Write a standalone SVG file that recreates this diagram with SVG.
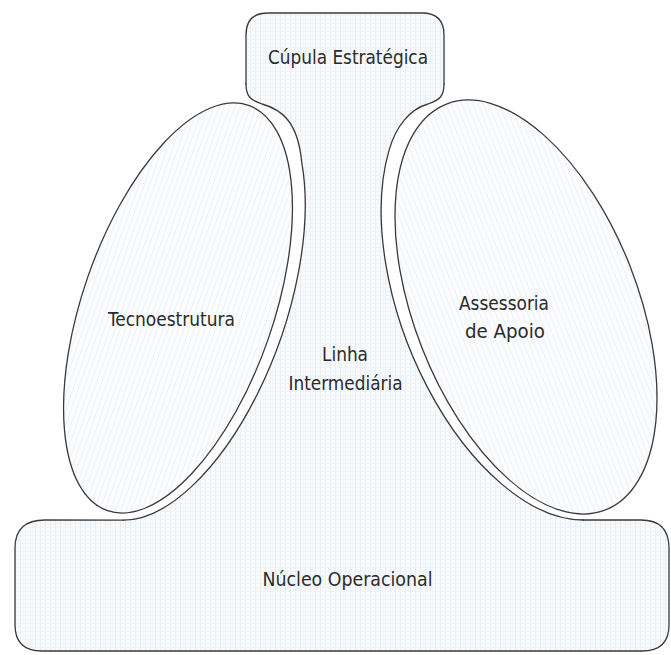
<svg xmlns="http://www.w3.org/2000/svg" width="671" height="655" viewBox="0 0 671 655">
  <style>
    .ln { fill: none; stroke: #3a3a3a; stroke-width: 1.3; stroke-linejoin: round; stroke-linecap: round; }
    .el { fill: url(#tex2); stroke: #3a3a3a; stroke-width: 1.3; }
    .lbl { font-family: 'Liberation Sans Narrow', 'DejaVu Sans Condensed', 'Liberation Sans', sans-serif; font-size: 20px; fill: #2b2b2b; text-anchor: middle; }
  </style>
  <defs>
    <pattern id="tex" width="5" height="4" patternUnits="userSpaceOnUse">
      <rect width="5" height="4" fill="#f8fafc"/>
      <rect x="0" y="0" width="1" height="4" fill="#e9eef3"/>
      <rect x="0" y="3" width="5" height="1" fill="#f1f4f7"/>
    </pattern>
    <pattern id="tex2" width="5" height="4" patternUnits="userSpaceOnUse">
      <rect width="5" height="4" fill="#fbfcfd"/>
      <rect x="0" y="0" width="1" height="4" fill="#eef2f6"/>
    </pattern>
  </defs>
  <rect width="671" height="655" fill="#ffffff"/>

  <!-- silhouette fill -->
  <path id="silhouette" fill="url(#tex)" stroke="none" d="M246,84 L246,35 Q246,13 268,13 L422,13 Q444,13 444,35 L444,84 C444,96 440,100 428,104 C410,109 396.1,126.1 389.1,150.1 A125,231 -21.4 0 0 583.4,520 L641,520 Q669,520 669,548 L669,625 Q669,651 642,651 L42,651 Q15,651 15,625 L15,548 Q15,520 45,520 L123.4,520.2 A106,226 19.2 0 0 301.8,162.9 C298,120 280,109 262,104 C250,100 246,96 246,84 Z"/>

  <g id="connectors"></g>

  <g id="cupula-estrategica">
    <path class="ln" d="M246,84 L246,35 Q246,13 268,13 L422,13 Q444,13 444,35 L444,84"/>
    <text class="lbl" x="348" y="64" textLength="160" lengthAdjust="spacingAndGlyphs">Cúpula Estratégica</text>
  </g>

  <g id="linha-intermediaria">
    <path class="ln" d="M246,84 C246,96 250,100 262,104 C280,109 298,120 301.8,162.9 A106,226 19.2 0 1 123.4,520.2"/>
    <path class="ln" d="M444,84 C444,96 440,100 428,104 C410,109 396.1,126.1 389.1,150.1 A125,231 -21.4 0 0 583.4,520"/>
    <text class="lbl" x="345" y="361" textLength="46" lengthAdjust="spacingAndGlyphs">Linha</text>
    <text class="lbl" x="345.5" y="390" textLength="114" lengthAdjust="spacingAndGlyphs">Intermediária</text>
  </g>

  <g id="nucleo-operacional">
    <path class="ln" d="M123.4,520.2 L45,520 Q15,520 15,548 L15,625 Q15,651 42,651 L642,651 Q669,651 669,625 L669,548 Q669,520 641,520 L583.4,520"/>
    <text class="lbl" x="347.5" y="586" textLength="170" lengthAdjust="spacingAndGlyphs">Núcleo Operacional</text>
  </g>

  <g id="tecnoestrutura">
    <ellipse class="el" cx="178" cy="308" rx="95.4" ry="214.6" transform="rotate(19.2 178 308)"/>
    <text class="lbl" x="171.5" y="326" textLength="127" lengthAdjust="spacingAndGlyphs">Tecnoestrutura</text>
  </g>

  <g id="assessoria-de-apoio">
    <ellipse class="el" cx="526" cy="307" rx="111.8" ry="218" transform="rotate(-21.4 526 307)"/>
    <text class="lbl" x="504" y="310" textLength="90" lengthAdjust="spacingAndGlyphs">Assessoria</text>
    <text class="lbl" x="505" y="338" textLength="80" lengthAdjust="spacingAndGlyphs">de Apoio</text>
  </g>
</svg>
